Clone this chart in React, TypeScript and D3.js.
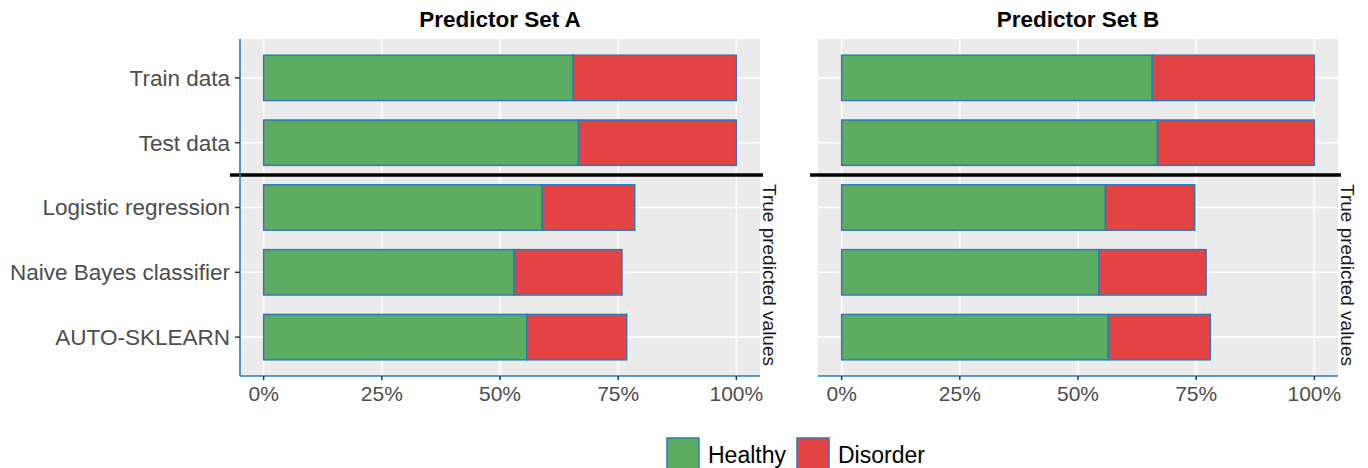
import React from "react";
import * as d3 from "d3";

const categories = ["Train data", "Test data", "Logistic regression", "Naive Bayes classifier", "AUTO-SKLEARN"];
const panelTitles = ["Predictor Set A", "Predictor Set B"];
const healthyA = [0.655, 0.666, 0.589, 0.53, 0.557];
const disorderA = [0.345, 0.334, 0.196, 0.228, 0.211];
const healthyB = [0.657, 0.668, 0.558, 0.544, 0.564];
const disorderB = [0.343, 0.332, 0.189, 0.227, 0.216];
const xTicks = [0, 0.25, 0.5, 0.75, 1];
const legendLabels = ["Healthy", "Disorder"];
const stripLabel = "True predicted values";

const FONT = "'Liberation Sans', Arial, sans-serif";
const GREEN = "#5cad62";
const RED = "#e34343";
const BLUE = "#2b7bba";

const panels = [
  { title: panelTitles[0], healthy: healthyA, disorder: disorderA, left: 240, right: 760, leftAxis: true },
  { title: panelTitles[1], healthy: healthyB, disorder: disorderB, left: 818, right: 1338, leftAxis: false },
];

const TOP = 39;
const BOTTOM = 376;

export default function App() {
  const n = categories.length;
  const step = (BOTTOM - TOP) / (n - 1 + 1.2);
  const y = d3.scalePoint<string>().domain(categories).range([TOP + 0.6 * step, BOTTOM - 0.6 * step]);
  const barH = step * 0.7;
  const fmt = d3.format(".0%");

  return (
    <svg width={1368} height={468} style={{ position: "absolute", left: 0, top: 0, display: "block" }} fontFamily={FONT}>
      <rect width={1368} height={468} fill="#fff" />
      {panels.map((p, pi) => {
        const w = p.right - p.left;
        const x = d3.scaleLinear().domain([-0.05, 1.05]).range([p.left, p.right]);
        return (
          <g key={pi}>
            <rect x={p.left} y={TOP} width={w} height={BOTTOM - TOP} fill="#ebebeb" />
            {xTicks.map((t) => (
              <line key={t} x1={x(t)} x2={x(t)} y1={TOP} y2={BOTTOM} stroke="#fff" strokeWidth={1.6} />
            ))}
            {categories.map((c) => (
              <line key={c} x1={p.left} x2={p.right} y1={y(c)!} y2={y(c)!} stroke="#fff" strokeWidth={1.6} />
            ))}
            {categories.map((c, i) => {
              const yc = y(c)! - barH / 2;
              const h = p.healthy[i];
              const dsr = p.disorder[i];
              return (
                <g key={c}>
                  <rect x={x(0)} y={yc} width={x(h) - x(0)} height={barH} fill={GREEN} stroke={BLUE} strokeWidth={1.5} />
                  <rect x={x(h)} y={yc} width={x(h + dsr) - x(h)} height={barH} fill={RED} stroke={BLUE} strokeWidth={1.5} />
                </g>
              );
            })}
            <line
              x1={p.left - (pi === 0 ? 10 : 8)}
              x2={p.right + 3}
              y1={(y(categories[1])! + y(categories[2])!) / 2}
              y2={(y(categories[1])! + y(categories[2])!) / 2}
              stroke="#000"
              strokeWidth={3.5}
            />
            <line x1={p.left} x2={p.right} y1={BOTTOM} y2={BOTTOM} stroke={BLUE} strokeWidth={1.6} />
            {p.leftAxis && <line x1={p.left} x2={p.left} y1={TOP} y2={BOTTOM} stroke={BLUE} strokeWidth={1.6} />}
            {p.leftAxis &&
              categories.map((c) => (
                <g key={c}>
                  <line x1={p.left - 5} x2={p.left} y1={y(c)!} y2={y(c)!} stroke="#333" strokeWidth={1.5} />
                  <text x={p.left - 10} y={y(c)!} dy="0.35em" textAnchor="end" fontSize={22.5} fill="#4d4d4d">
                    {c}
                  </text>
                </g>
              ))}
            {xTicks.map((t) => (
              <g key={t}>
                <line x1={x(t)} x2={x(t)} y1={BOTTOM} y2={BOTTOM + 4} stroke="#333" strokeWidth={1.5} />
                <text x={x(t)} y={BOTTOM + 25} textAnchor="middle" fontSize={21} fill="#4d4d4d">
                  {fmt(t)}
                </text>
              </g>
            ))}
            <text x={(p.left + p.right) / 2} y={27} textAnchor="middle" fontSize={22.5} fontWeight="bold" fill="#000">
              {p.title}
            </text>
            <text
              transform={`translate(${p.right + 3},275) rotate(90)`}
              textAnchor="middle"
              fontSize={19}
              fill="#1a1a1a"
            >
              {stripLabel}
            </text>
          </g>
        );
      })}
      {legendLabels.map((l, i) => {
        const x0 = i === 0 ? 667 : 797;
        return (
          <g key={l}>
            <rect x={x0} y={438} width={32} height={32} fill={i === 0 ? GREEN : RED} stroke={BLUE} strokeWidth={1.5} />
            <text x={x0 + 41} y={463} fontSize={23} fill="#000">
              {l}
            </text>
          </g>
        );
      })}
    </svg>
  );
}
